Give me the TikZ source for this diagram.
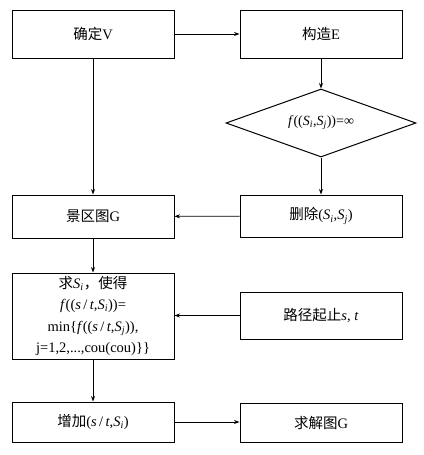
\documentclass[tikz,border=0pt]{standalone}
\usepackage{fontspec}
\setmainfont{Liberation Serif}
\newfontfamily\cjk{Noto Sans CJK SC}
\usetikzlibrary{shapes.geometric,arrows.meta}
\newcommand{\itx}[1]{\textit{#1}}
\newcommand{\subx}[1]{\textsubscript{\textit{#1}}}
\begin{document}
\begin{tikzpicture}[x=1pt,y=-1pt,
  box/.style={draw,line width=1pt,inner sep=0pt,align=center,font=\fontsize{14.5}{21.5}\selectfont,minimum width=162pt},
  dia/.style={draw,diamond,line width=1pt,inner sep=0pt,minimum width=190pt,minimum height=68pt,aspect=2.8,font=\fontsize{14}{16}\selectfont},
  arr/.style={draw,line width=0.75pt,-{Stealth[length=5.5pt,width=4pt]}}]
\useasboundingbox (0,0) rectangle (423,455);
\node[box,minimum height=48pt] (v) at (93,34) {{\cjk 确定}V};
\node[box,minimum height=48pt] (e) at (321,34) {{\cjk 构造}E};
\node[dia] (d) at (321,123) {\itx{f}((\itx{S}\subx{i},\itx{S}\subx{j}))=∞};
\node[box,minimum height=42pt] (del) at (321,216) {{\cjk 删除}(\itx{S}\subx{i},\itx{S}\subx{j})};
\node[box,minimum height=43pt] (g) at (93,216.5) {{\cjk 景区图}G};
\node[box,minimum height=86pt] (q) at (93,316) {{\cjk 求}\itx{S}\subx{i}{\cjk ，使得}\\\itx{f}((\itx{s}\,/\,\itx{t},\itx{S}\subx{i}))=\\min\{\itx{f}((\itx{s}\,/\,\itx{t},\itx{S}\subx{j})),\\j=1,2,...,cou(cou)\}\}};
\node[box,minimum height=47pt] (p) at (321,315.5) {{\cjk 路径起止}\itx{s}, \itx{t}};
\node[box,minimum height=40pt] (a) at (93,422) {{\cjk 增加}(\itx{s}\,/\,\itx{t},\itx{S}\subx{i})};
\node[box,minimum height=39pt] (s) at (321,423) {{\cjk 求解图}G};
\draw[arr] (v) -- (e);
\draw[arr] (e) -- (d);
\draw[arr] (d) -- (del);
\draw[arr] (v) -- (g);
\draw[arr] (del) -- (g);
\draw[arr] (g) -- (q);
\draw[arr] (p.west) -- (p.west -| q.east);
\draw[arr] (q) -- (a);
\draw[arr] (a.east) -- (a.east -| s.west);
\end{tikzpicture}
\end{document}
